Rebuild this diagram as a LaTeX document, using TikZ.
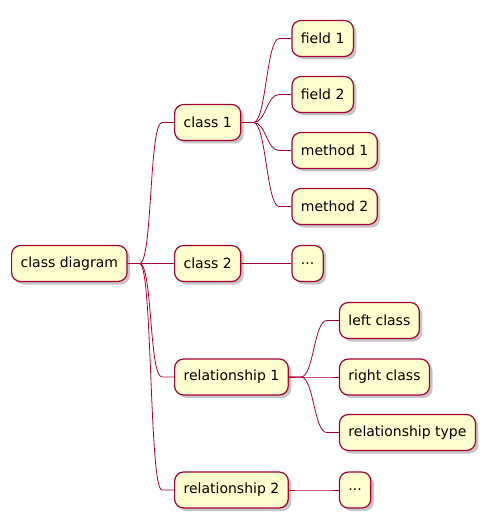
\documentclass[tikz,border=0pt]{standalone}
\usepackage{fontspec}
\setmainfont{DejaVu Sans}
\usetikzlibrary{shadows}
\definecolor{umlfill}{HTML}{FEFECE}
\definecolor{umlline}{HTML}{A80036}
\tikzset{%
  topico/.style={draw=umlline,fill=umlfill,line width=1.2pt,rounded corners=9pt,
    anchor=west,minimum height=36pt,inner xsep=9pt,font=\fontsize{14}{16}\selectfont,
    drop shadow={opacity=0.45,shadow xshift=3pt,shadow yshift=-3pt}},
  ramo/.style={draw=umlline,line width=0.8pt,
    to path={(\tikztostart) -- ([xshift=12pt]\tikztostart)
      .. controls ([xshift=25pt]\tikztostart) and ([xshift=-25pt]\tikztotarget)
      .. ([xshift=-12pt]\tikztotarget) -- (\tikztotarget)}}
}
\begin{document}
\begin{tikzpicture}[x=1pt,y=1pt]
  \useasboundingbox (0,0) rectangle (492,-529);
  % raiz e primeiro nivel
  \node[topico] (raiz) at (11,-263.5) {class diagram};
  \node[topico] (classe1) at (174,-122.5) {class 1};
  \node[topico] (classe2) at (174,-263.5) {class 2};
  \node[topico] (rel1) at (174,-377) {relationship 1};
  \node[topico] (rel2) at (174,-490) {relationship 2};
  % segundo nivel
  \node[topico,yshift=84pt] (campo1) at ([xshift=50pt]classe1.east) {field 1};
  \node[topico,yshift=28pt] (campo2) at ([xshift=50pt]classe1.east) {field 2};
  \node[topico,yshift=-28pt] (metodo1) at ([xshift=50pt]classe1.east) {method 1};
  \node[topico,yshift=-84pt] (metodo2) at ([xshift=50pt]classe1.east) {method 2};
  \node[topico] (etc1) at ([xshift=50pt]classe2.east) {...};
  \node[topico,yshift=56.5pt] (esq) at ([xshift=50pt]rel1.east) {left class};
  \node[topico] (dir) at ([xshift=50pt]rel1.east) {right class};
  \node[topico,yshift=-55.5pt] (tipo) at ([xshift=50pt]rel1.east) {relationship type};
  \node[topico] (etc2) at ([xshift=50pt]rel2.east) {...};
  % ligacoes
  \foreach \pai/\filho in {raiz/classe1,raiz/classe2,raiz/rel1,raiz/rel2,
      classe1/campo1,classe1/campo2,classe1/metodo1,classe1/metodo2,classe2/etc1,
      rel1/esq,rel1/dir,rel1/tipo,rel2/etc2}
    \draw[ramo] (\pai.east) to (\filho.west);
\end{tikzpicture}
\end{document}
